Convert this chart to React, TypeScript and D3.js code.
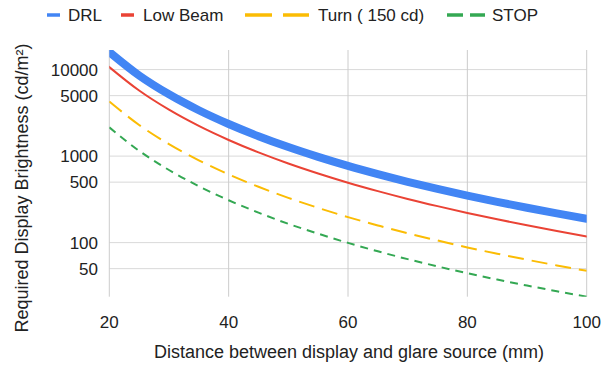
import React from "react";
import * as d3 from "d3";

const distances = [20, 25, 30, 35, 40, 45, 50, 55, 60, 65, 70, 75, 80, 85, 90, 95, 100];
const drl = [16000, 8560, 5180, 3390, 2350, 1700, 1272, 979, 770, 618, 504, 417, 349, 296, 253, 218, 189];
const lowBeam = [10690, 5725, 3438, 2232, 1536, 1104, 822, 630, 493, 394, 320, 264, 220, 186, 158.5, 136, 118];
const turn = [4278, 2290, 1375, 893, 614, 442, 329, 252, 197, 158, 128, 106, 88, 74.4, 63.4, 54.5, 47.2];
const stop = [2150, 1151, 691, 449, 309, 222, 165, 127, 99.2, 79.3, 64.4, 53.1, 44.3, 37.4, 31.9, 27.4, 23.7];

const xTicks = [20, 40, 60, 80, 100];
const yTicks = [50, 100, 500, 1000, 5000, 10000];

const series = [
  { name: "DRL", values: drl, color: "#4285F4", width: 8, dash: "" },
  { name: "Low Beam", values: lowBeam, color: "#EA4335", width: 2, dash: "" },
  { name: "Turn ( 150 cd)", values: turn, color: "#FBBC04", width: 2, dash: "16,8" },
  { name: "STOP", values: stop, color: "#34A853", width: 2, dash: "8,6" },
];

const W = 615;
const H = 379;
const left = 109.3;
const right = 586.7;
const top = 50;
const bottom = 296.7;
const font = "Arial, 'Liberation Sans', sans-serif";

export default function App() {
  const x = d3.scaleLinear().domain([20, 100]).range([left, right]);
  const y = d3.scaleLog().domain([23.7, 16850]).range([bottom, top]);
  const line = d3
    .line<number>()
    .x((_, i) => x(distances[i]))
    .y((v) => y(v))
    .curve(d3.curveMonotoneX);

  // legend layout
  const legend = [
    { segs: [[47, 60]], tx: 68, w: 3.5 },
    { segs: [[121, 134]], tx: 143, w: 3.5 },
    { segs: [[245, 272], [283, 309]], tx: 318, w: 3.5 },
    { segs: [[447, 463], [470, 485]], tx: 492, w: 3.5 },
  ];

  return (
    <div style={{ position: "absolute", left: 0, top: 0 }}>
      <svg width={W} height={H} style={{ display: "block", background: "#fff" }}>
        <defs>
          <clipPath id="plot">
            <rect x={left} y={top} width={right - left} height={bottom - top} />
          </clipPath>
        </defs>

        {/* gridlines */}
        {yTicks.map((t) => (
          <line key={"gy" + t} x1={left} x2={right} y1={y(t)} y2={y(t)} stroke="#d9d9d9" strokeWidth={1} />
        ))}
        {xTicks.map((t) => (
          <line key={"gx" + t} x1={x(t)} x2={x(t)} y1={top} y2={bottom} stroke="#cccccc" strokeWidth={1} />
        ))}

        {/* series, clipped to the plot so the thick line is cut at the edges */}
        <g clipPath="url(#plot)">
          {series.map((s) => (
            <path
              key={s.name}
              d={line(s.values) || ""}
              fill="none"
              stroke={s.color}
              strokeWidth={s.width}
              strokeLinecap={s.dash ? "butt" : "square"}
              strokeDasharray={s.dash || undefined}
            />
          ))}
        </g>

        {/* tick labels */}
        {yTicks.map((t) => (
          <text key={"ty" + t} x={98} y={y(t)} dy="0.35em" textAnchor="end" fontFamily={font} fontSize={17} fill="#222">
            {t}
          </text>
        ))}
        {xTicks.map((t) => (
          <text key={"tx" + t} x={x(t)} y={328} textAnchor="middle" fontFamily={font} fontSize={17} fill="#222">
            {t}
          </text>
        ))}

        {/* axis titles */}
        <text x={349} y={358} textAnchor="middle" fontFamily={font} fontSize={18} fill="#222">
          Distance between display and glare source (mm)
        </text>
        <text
          transform={`translate(28, ${188}) rotate(-90)`}
          textAnchor="middle"
          fontFamily={font}
          fontSize={18}
          fill="#222"
        >
          Required Display Brightness (cd/m²)
        </text>

        {/* legend */}
        {series.map((s, i) => (
          <g key={"lg" + s.name}>
            {legend[i].segs.map((sg, j) => (
              <line key={j} x1={sg[0]} x2={sg[1]} y1={15} y2={15} stroke={s.color} strokeWidth={legend[i].w} />
            ))}
            <text x={legend[i].tx} y={21} fontFamily={font} fontSize={17} fill="#222">
              {s.name}
            </text>
          </g>
        ))}
      </svg>
    </div>
  );
}
